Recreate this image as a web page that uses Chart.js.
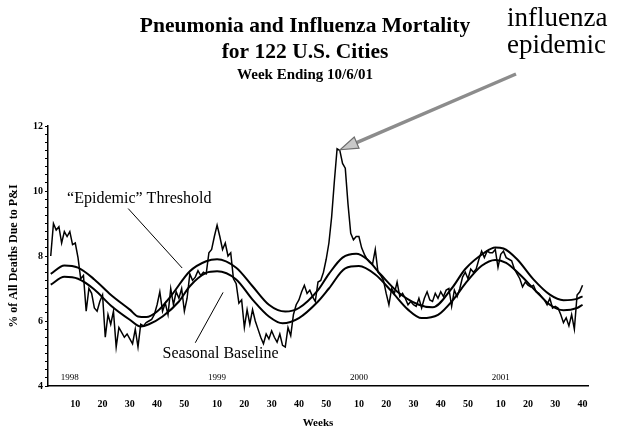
<!DOCTYPE html>
<html>
<head>
<meta charset="utf-8">
<script src="https://cdn.jsdelivr.net/npm/chart.js@4.4.1/dist/chart.umd.min.js"></script>
<style>
html, body { margin: 0; padding: 0; background: #fff; }
</style>
</head>
<body>
<canvas id="pniChart" width="619" height="438"></canvas>
<script>
// weekly % of deaths due to P&I
const observed1998 = [8.0, 9.0, 8.8, 8.9, 8.4, 8.75, 8.6, 8.75, 8.35, 8.4, 7.95, 7.3, 7.4, 6.3, 7.0, 6.85, 6.4, 6.3, 6.6, 6.8,
  5.5, 6.2, 5.9, 6.3, 5.2, 5.8, 5.65, 5.5, 5.6, 5.45, 5.3, 5.75, 5.2, 5.9, 5.85, 5.95, 6.0, 6.05, 6.2, 6.5,
  6.9, 6.3, 6.55, 6.2, 7.0, 6.5, 6.9, 6.7, 7.0, 6.3, 6.7, 7.45];
const observed1999 = [7.25, 7.35, 7.55, 7.4, 7.5, 7.45, 8.1, 8.2, 8.6, 8.95, 8.6, 8.2, 8.4, 8.0, 8.1, 7.3, 7.15, 6.55, 6.65, 5.8,
  6.35, 5.9, 6.35, 6.0, 5.75, 5.5, 5.3, 5.6, 5.45, 5.7, 5.5, 5.35, 5.6, 5.25, 5.2, 5.8, 5.55, 6.2, 6.5, 6.65,
  6.9, 7.1, 6.85, 6.95, 6.75, 6.6, 7.2, 7.25, 7.5, 7.9, 8.4, 9.2];
const observed2000 = [10.3, 11.3, 11.25, 10.85, 10.7, 9.6, 8.7, 8.5, 8.6, 8.6, 8.25, 8.05, 7.9, 7.8, 7.75, 8.2, 7.5, 7.4, 7.25, 6.85,
  6.5, 7.0, 6.85, 7.2, 6.75, 6.85, 6.7, 6.5, 6.6, 6.5, 6.45, 6.7, 6.4, 6.7, 6.9, 6.65, 6.6, 6.85, 6.7, 6.9,
  6.75, 6.95, 7.0, 6.45, 6.95, 6.75, 7.0, 7.35, 7.5, 7.3, 7.6, 7.5];
const observed2001 = [7.6, 7.9, 8.15, 7.95, 8.15, 8.1, 8.1, 8.2, 7.65, 8.05, 8.15, 7.95, 7.9, 7.85, 7.6, 7.45, 7.3, 7.05, 7.2, 7.1,
  7.05, 7.1, 6.9, 6.85, 6.75, 6.65, 6.5, 6.7, 6.4, 6.45, 6.4, 6.2, 5.95, 6.1, 5.85, 6.2, 5.75, 6.8, 6.9, 7.1];

// smooth curves, sampled at these weeks (week 1 = first week of 1998)
const thresholdWeeks = [1, 6, 11, 17, 23, 30, 33, 36, 40, 45, 52, 58, 62, 69, 75, 81, 87, 92, 99, 103,
  108, 113, 117, 122, 128, 136, 141, 148, 153, 160, 164, 167, 172, 178, 184, 189, 194, 196];
const thresholdValues = [7.45, 7.71, 7.64, 7.28, 6.81, 6.35, 6.14, 6.12, 6.29, 6.76, 7.53, 7.84, 7.90, 7.64, 7.07, 6.50, 6.29, 6.40, 6.95, 7.45,
  7.95, 8.07, 7.90, 7.43, 6.91, 6.50, 6.42, 7.0, 7.60, 8.10, 8.26, 8.23, 7.90, 7.28, 6.81, 6.64, 6.68, 6.76];
const baselineWeeks = [1, 6, 11, 17, 23, 30, 34, 37, 42, 48, 52, 58, 62, 69, 75, 81, 86, 92, 99, 103,
  109, 114, 120, 126, 132, 137, 143, 149, 153, 159, 164, 168, 173, 179, 184, 189, 194, 196];
const baselineValues = [7.12, 7.36, 7.30, 6.97, 6.48, 6.04, 5.83, 5.90, 6.14, 6.60, 7.07, 7.48, 7.53, 7.28, 6.66, 6.14, 5.93, 6.09, 6.60, 7.0,
  7.62, 7.69, 7.43, 6.91, 6.35, 6.09, 6.19, 6.70, 7.15, 7.70, 7.88, 7.79, 7.43, 6.91, 6.50, 6.33, 6.40, 6.50];

// axis labels
const xTickWeeks = [10, 20, 30, 40, 50, 62, 72, 82, 92, 102, 114, 124, 134, 144, 154, 166, 176, 186, 196];
const xTickLabels = ['10', '20', '30', '40', '50', '10', '20', '30', '40', '50', '10', '20', '30', '40', '50', '10', '20', '30', '40'];
const yearLabels = ['1998', '1999', '2000', '2001'];
const yearLabelWeeks = [8, 62, 114, 166];
const titleLines = ['Pneumonia and Influenza Mortality', 'for 122 U.S. Cities', 'Week Ending 10/6/01'];

const observed = observed1998.concat(observed1999, observed2000, observed2001);
const weeks = observed.map((v, i) => i + 1);
const toPoints = (ws, vs) => ws.map((w, i) => ({ x: w, y: vs[i] }));

const serif = '"Liberation Serif", "Times New Roman", serif';

const decor = {
    id: 'decor',
    afterDraw(chart) {
        const ctx = chart.ctx;
        const xs = chart.scales.x, ys = chart.scales.y;
        const px = w => xs.getPixelForValue(w);
        const py = v => ys.getPixelForValue(v);
        ctx.save();
        ctx.fillStyle = '#000';

        // title block
        ctx.textAlign = 'center';
        ctx.textBaseline = 'alphabetic';
        ctx.font = 'bold 21.5px ' + serif;
        ctx.fillText(titleLines[0], 305, 32);
        ctx.fillText(titleLines[1], 305, 58);
        ctx.font = 'bold 15px ' + serif;
        ctx.fillText(titleLines[2], 305, 79);

        // callout text
        ctx.textAlign = 'left';
        ctx.font = '27px ' + serif;
        ctx.fillText('influenza', 507, 26);
        ctx.fillText('epidemic', 507, 53);

        // year labels above the x axis
        ctx.textAlign = 'center';
        ctx.textBaseline = 'middle';
        ctx.font = '9px ' + serif;
        yearLabels.forEach((y, i) => ctx.fillText(y, px(yearLabelWeeks[i]), py(4.25)));

        // curve labels and their leader lines
        ctx.textAlign = 'left';
        ctx.font = '16px ' + serif;
        ctx.fillText('\u201CEpidemic\u201D Threshold', px(7), py(9.77));
        ctx.fillText('Seasonal Baseline', px(42), py(4.99));
        ctx.strokeStyle = '#000';
        ctx.lineWidth = 1;
        ctx.beginPath();
        ctx.moveTo(px(29.4), py(9.46));
        ctx.lineTo(px(49.2), py(7.63));
        ctx.moveTo(px(54), py(5.33));
        ctx.lineTo(px(64.2), py(6.88));
        ctx.stroke();

        // grey arrow to the epidemic peak
        const peak = Math.max(...observed);
        const tipX = px(observed.indexOf(peak) + 1) + 3, tipY = py(peak) + 1;
        const tailX = 516, tailY = 74;
        const ang = Math.atan2(tipY - tailY, tipX - tailX);
        const headLen = 18, headW = 6;
        const baseX = tipX - headLen * Math.cos(ang), baseY = tipY - headLen * Math.sin(ang);
        ctx.strokeStyle = '#8c8c8c';
        ctx.lineWidth = 3.5;
        ctx.beginPath();
        ctx.moveTo(tailX, tailY);
        ctx.lineTo(baseX, baseY);
        ctx.stroke();
        ctx.fillStyle = '#c8c8c8';
        ctx.strokeStyle = '#6e6e6e';
        ctx.lineWidth = 1.2;
        ctx.beginPath();
        ctx.moveTo(tipX, tipY);
        ctx.lineTo(baseX + headW * Math.sin(ang), baseY - headW * Math.cos(ang));
        ctx.lineTo(baseX - headW * Math.sin(ang), baseY + headW * Math.cos(ang));
        ctx.closePath();
        ctx.fill();
        ctx.stroke();
        ctx.restore();
    }
};

const config = {
    type: 'line',
    data: {
        labels: weeks,
        datasets: [{
            label: 'Epidemic Threshold',
            data: toPoints(thresholdWeeks, thresholdValues),
            borderColor: '#000',
            borderWidth: 2,
            pointRadius: 0,
            cubicInterpolationMode: 'monotone',
            fill: false
        },
        {
            label: 'Seasonal Baseline',
            data: toPoints(baselineWeeks, baselineValues),
            borderColor: '#000',
            borderWidth: 2,
            pointRadius: 0,
            cubicInterpolationMode: 'monotone',
            fill: false
        },
        {
            label: '% P&I',
            data: observed,
            borderColor: '#000',
            borderWidth: 1.5,
            pointRadius: 0,
            tension: 0,
            fill: false
        }]
    },
    options: {
        responsive: false,
        animation: false,
        layout: { padding: { left: 0, right: 31, top: 126, bottom: 0 } },
        plugins: {
            legend: { display: false },
            title: { display: false },
            tooltip: { enabled: false }
        },
        scales: {
            x: {
                type: 'linear',
                min: 0,
                max: 198,
                afterFit: s => { s.height = 52; },
                afterBuildTicks: s => { s.ticks = xTickWeeks.map(v => ({ value: v })); },
                grid: { display: true, drawOnChartArea: false, drawTicks: false },
                border: { display: true, color: '#000', width: 1.5 },
                ticks: {
                    autoSkip: false,
                    maxRotation: 0,
                    padding: 12,
                    color: '#000',
                    font: { family: serif, size: 10, weight: 'bold' },
                    callback: v => xTickLabels[xTickWeeks.indexOf(v)]
                },
                title: {
                    display: true,
                    text: 'Weeks',
                    color: '#000',
                    font: { family: serif, size: 11, weight: 'bold' },
                    padding: { top: 4, bottom: 8 }
                }
            },
            y: {
                min: 4,
                max: 12,
                afterFit: s => { s.width = 48; },
                grid: { display: true, drawOnChartArea: false, tickLength: 3, color: '#000' },
                border: { display: true, color: '#000', width: 1.5 },
                ticks: {
                    stepSize: 0.25,
                    autoSkip: false,
                    padding: 2,
                    color: '#000',
                    font: { family: serif, size: 10, weight: 'bold' },
                    callback: v => (v % 2 === 0 ? String(v) : '')
                },
                title: {
                    display: true,
                    text: '% of All Deaths Due to P&I',
                    color: '#000',
                    font: { family: serif, size: 12, weight: 'bold' },
                    padding: { top: 7, bottom: 0 }
                }
            }
        }
    },
    plugins: [decor]
};

var chart = new Chart('pniChart', config);
</script>
</body>
</html>
